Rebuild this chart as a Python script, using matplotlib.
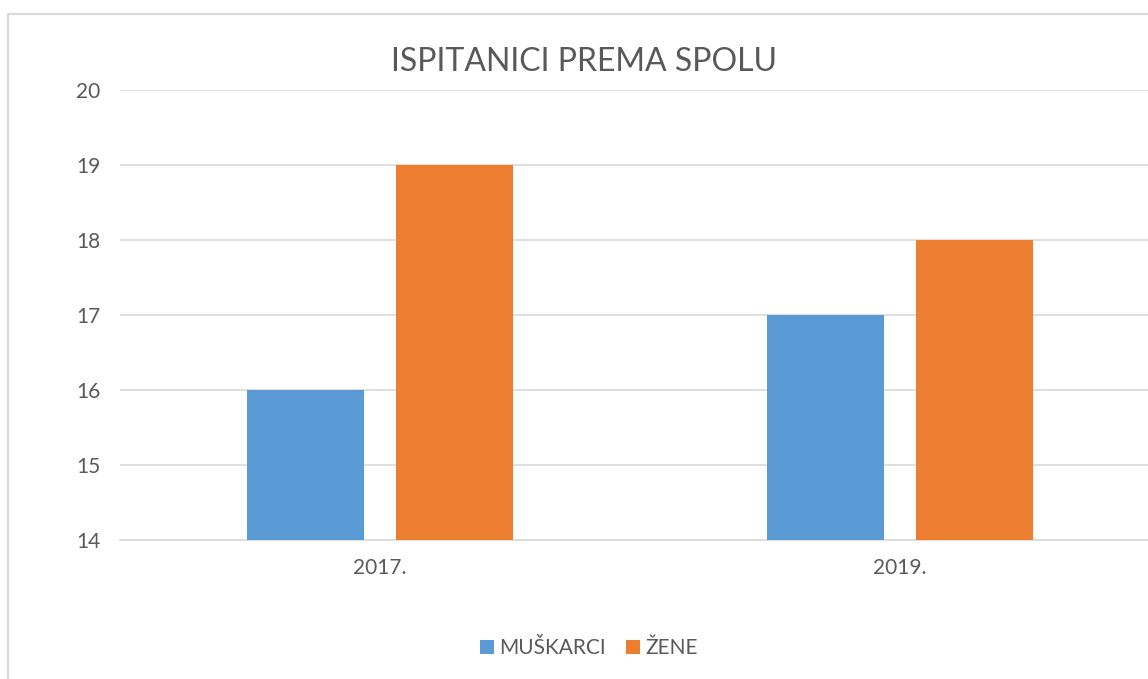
import matplotlib.pyplot as plt
from matplotlib.patches import Rectangle
import numpy as np

plt.rcParams['font.family'] = ['Lato', 'DejaVu Sans']

# data
years = ['2017.', '2019.']
muskarci = [16, 17]
zene = [19, 18]
series_names = ['MUŠKARCI', 'ŽENE']
y_ticks = [14, 15, 16, 17, 18, 19, 20]

blue = '#5B9BD5'
orange = '#ED7D31'
txt = '#595959'
grid_col = '#D9D9D9'

fig = plt.figure(figsize=(11.48, 6.79), dpi=100)

# chart frame (Excel style)
fig.patches.append(Rectangle((8 / 1148, -0.1), 1.2, 1.1 - 14.5 / 679,
                             transform=fig.transFigure, fill=False,
                             edgecolor=grid_col, linewidth=1.5, clip_on=False))

ax = fig.add_axes([120 / 1148, 1 - 540 / 679, 1040 / 1148, 450 / 679])

x = np.arange(len(years))
w = 0.225
off = 0.1435
ax.bar(x - off, [m - 14 for m in muskarci], w, bottom=14, color=blue, label=series_names[0], zorder=3)
ax.bar(x + off, [z - 14 for z in zene], w, bottom=14, color=orange, label=series_names[1], zorder=3)

ax.set_xlim(-0.5, 1.5)
ax.set_ylim(14, 20)
ax.set_yticks(y_ticks)
ax.set_xticks(x)
ax.set_xticklabels(years)
ax.tick_params(axis='both', length=0, labelsize=15, labelcolor=txt)
ax.tick_params(axis='y', pad=14)
ax.tick_params(axis='x', pad=13)
ax.grid(axis='y', color=grid_col, linewidth=1.2, zorder=0)
for s in ['top', 'right', 'left']:
    ax.spines[s].set_visible(False)
ax.spines['bottom'].set_color(grid_col)
ax.spines['bottom'].set_linewidth(1.2)

fig.text(584 / 1148, 1 - 62 / 679, 'ISPITANICI PREMA SPOLU', ha='center', va='center',
         fontsize=23, color=txt)

fig.legend(loc='center', bbox_to_anchor=(589 / 1148, 1 - 648 / 679), ncol=2, frameon=False,
           fontsize=15, labelcolor=txt, handlelength=0.65, handleheight=0.65,
           handletextpad=0.25, columnspacing=1.0)

fig.savefig('out.png', dpi=100)
